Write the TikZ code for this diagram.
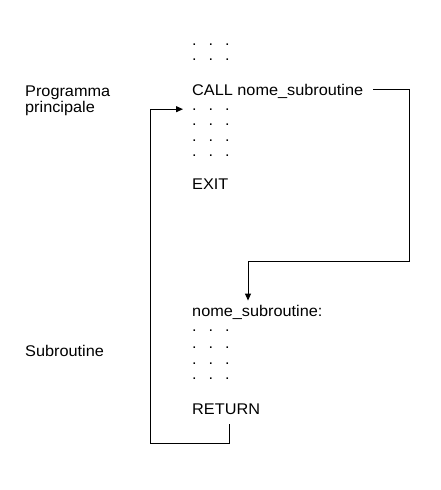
\documentclass[tikz,border=0pt]{standalone}
\usepackage{fontspec}
\setmainfont{Liberation Sans}[FakeStretch=1.05]
\usetikzlibrary{arrows.meta}
\newcommand{\dotrow}{\makebox[16.5pt][l]{.}\makebox[16.5pt][l]{.}.}
\begin{document}
\begin{tikzpicture}[x=1pt,y=-1pt,
  txt/.style={anchor=base west,inner sep=0pt,font=\fontsize{15.5}{18}\selectfont},
  conn/.style={line width=1pt},
  arr/.style={conn,-{Triangle[length=7pt,width=6pt]}}]
\useasboundingbox (0,0) rectangle (441,490);
% left labels
\node[txt] (prog1) at (25,96) {Programma};
\node[txt] (prog2) at (25,112) {principale};
\node[txt] (subl) at (25,356) {Subroutine};
% main program
\node[txt] (m1) at (192,45) {\dotrow};
\node[txt] (m2) at (192,60) {\dotrow};
\node[txt] (call) at (192,95) {CALL nome\_subroutine};
\node[txt] (m3) at (192,110) {\dotrow};
\node[txt] (m4) at (192,125) {\dotrow};
\node[txt] (m5) at (192,141) {\dotrow};
\node[txt] (m6) at (192,156) {\dotrow};
\node[txt] (exit) at (192,189) {EXIT};
% subroutine
\node[txt] (sub) at (192,316) {nome\_subroutine:};
\node[txt] (s1) at (192,331) {\dotrow};
\node[txt] (s2) at (192,348) {\dotrow};
\node[txt] (s3) at (192,364) {\dotrow};
\node[txt] (s4) at (192,379) {\dotrow};
\node[txt] (ret) at (192,414) {RETURN};
% connectors
\coordinate (callout) at (373,89);
\coordinate (cr) at (409,261);
\coordinate (rb) at (150,443);
\draw[arr] (callout) -| (cr) -| ([xshift=56pt,yshift=4pt]sub.north west);
\draw[arr] ([xshift=37pt,yshift=-10pt]ret.south west) |- (rb) |- ([xshift=-9pt]m3.west);
\end{tikzpicture}
\end{document}
